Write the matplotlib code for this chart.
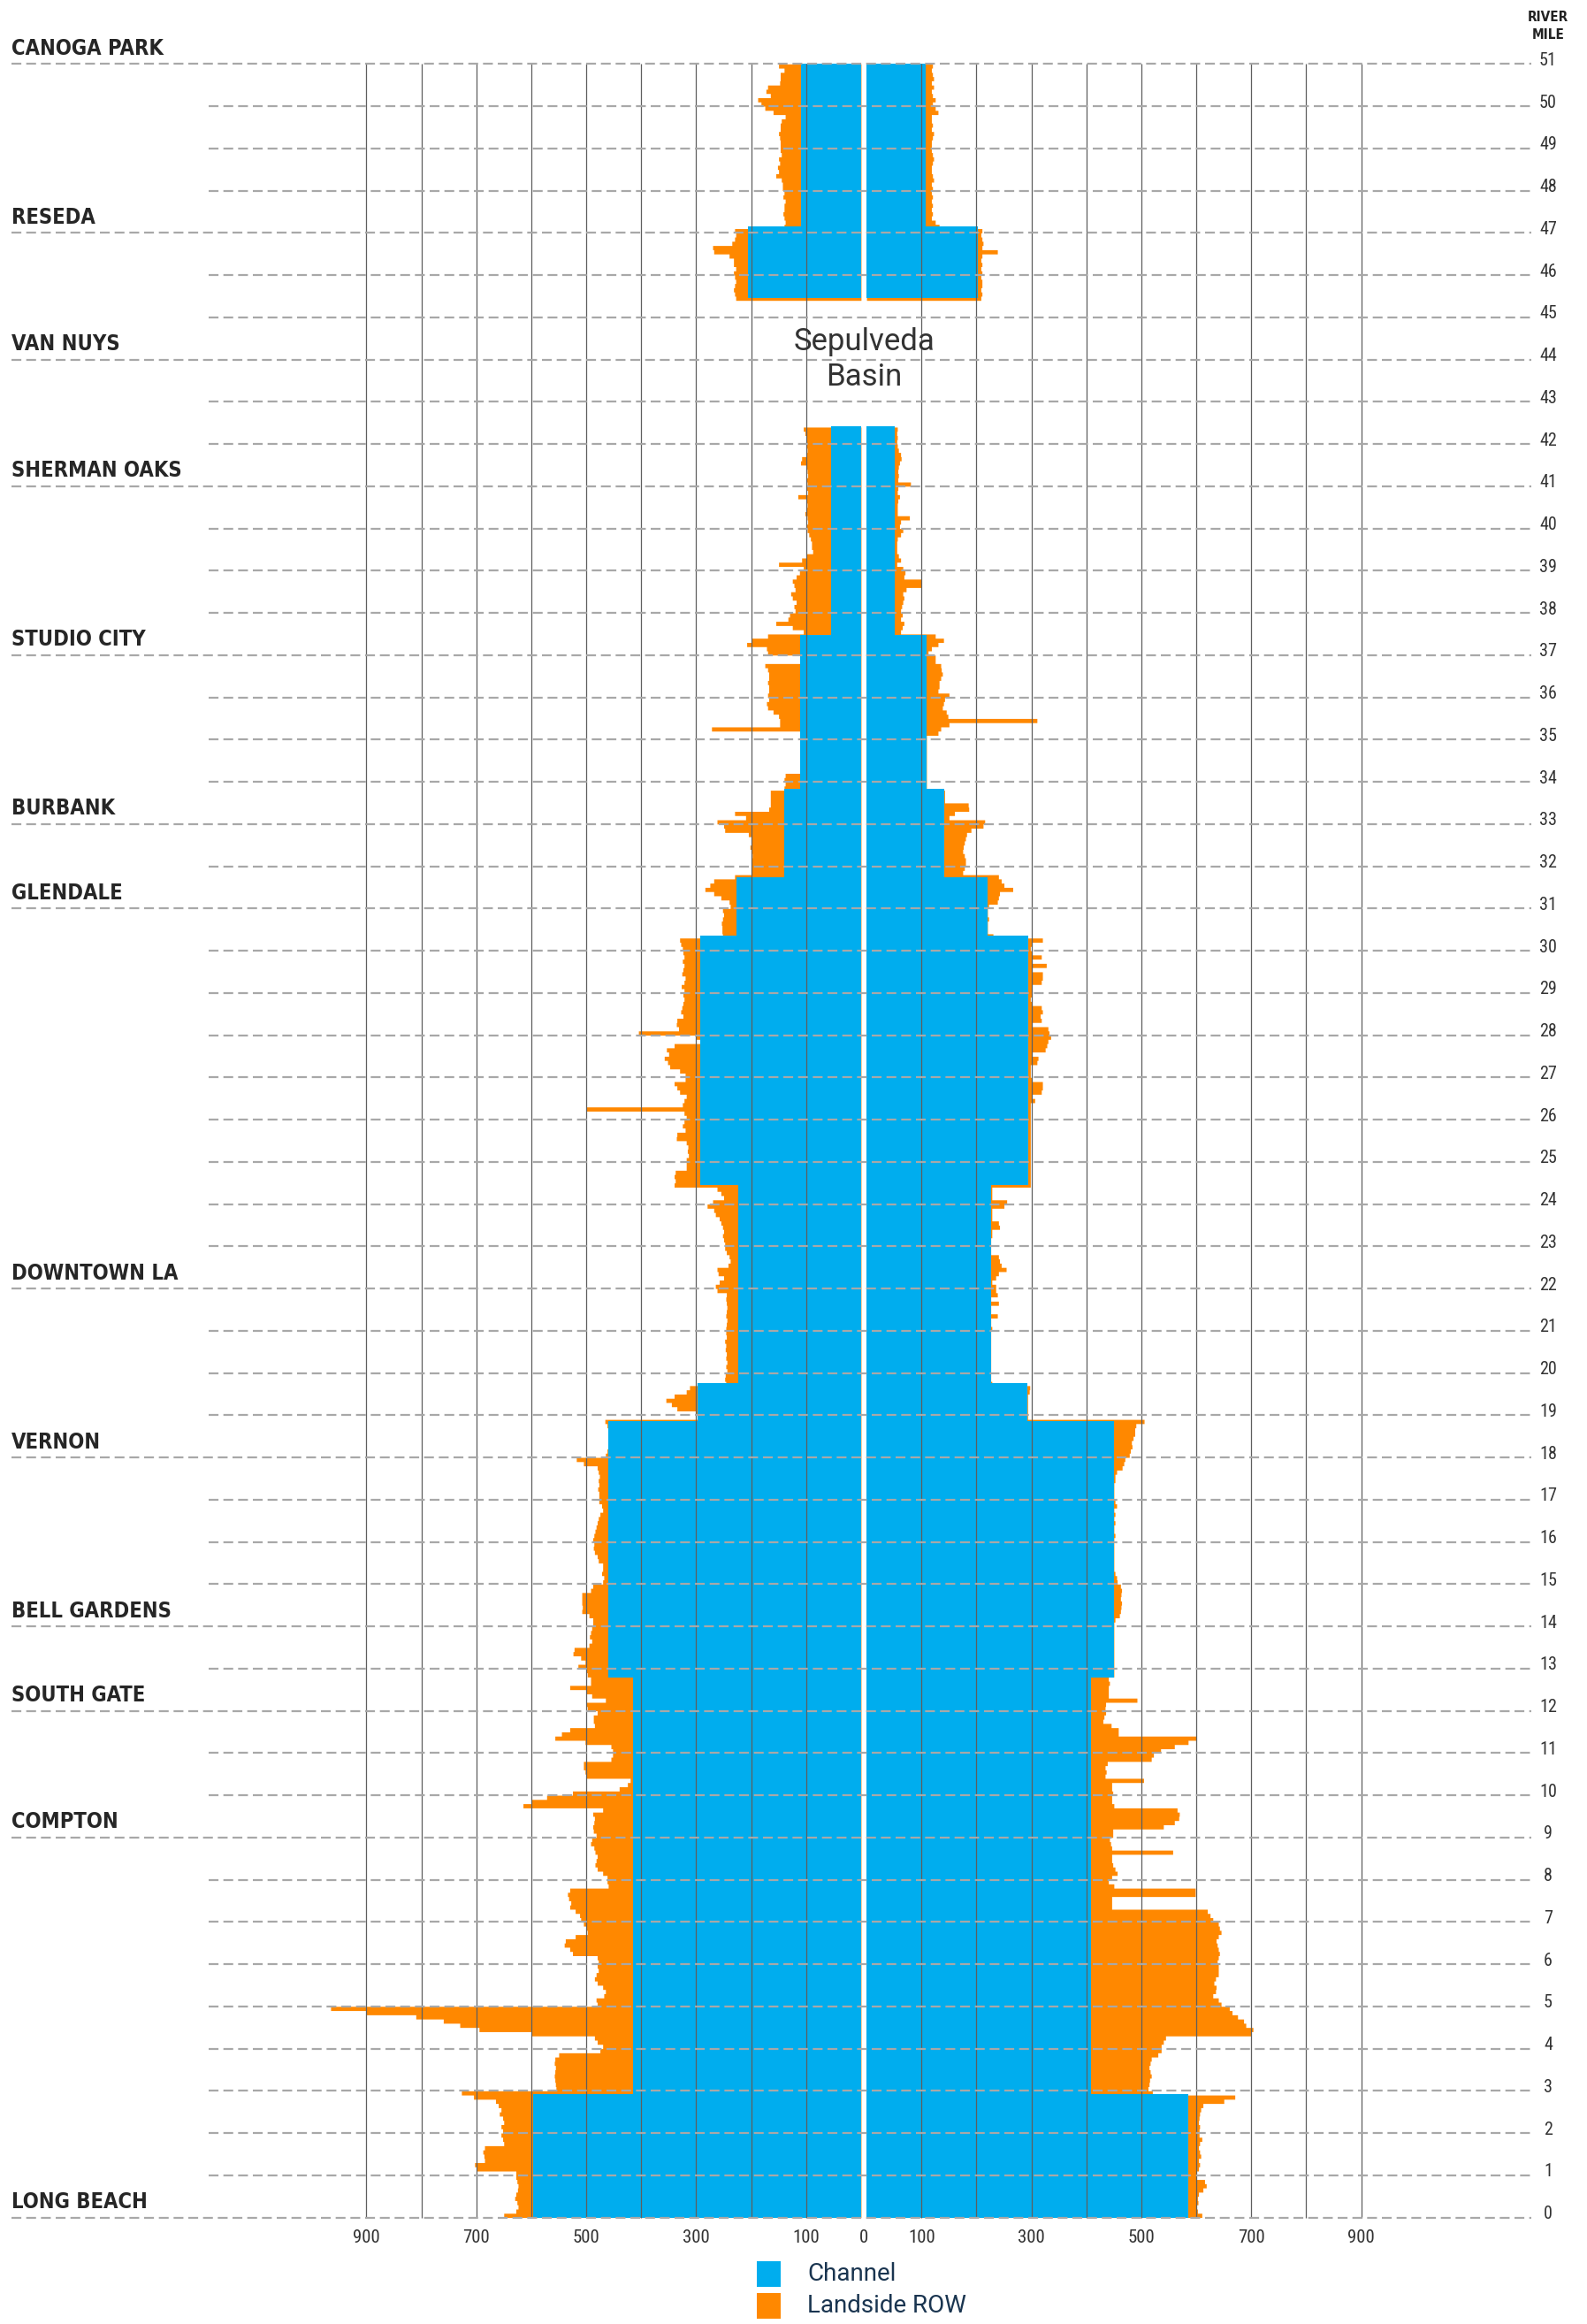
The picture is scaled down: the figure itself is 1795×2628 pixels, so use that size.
import numpy as np
import matplotlib
matplotlib.use("Agg")
import matplotlib.pyplot as plt
from matplotlib.patches import Rectangle

# channel segments: top mile, bottom mile, half-width left / right (ft)
CHANNEL_TOP = [51.0, 47.15, 42.42, 37.48, 33.83, 31.73, 30.35, 24.45, 19.76, 18.86, 12.79, 2.92]
CHANNEL_BOTTOM = [47.15, 45.45, 37.48, 33.83, 31.73, 30.35, 24.45, 19.76, 18.86, 12.79, 2.92, 0.0]
CHANNEL_LEFT = [110, 205, 55, 111, 139, 226, 293, 224, 297, 460, 415, 596]
CHANNEL_RIGHT = [108, 203, 52, 109, 142, 220, 294, 226, 292, 450, 408, 586]

# landside ROW outer edge, one row per river mile (51->50 first), 0.1 mile steps
ROW_LEFT = [
    [150, 140, 147, 147, 148, 170, 173, 165, 188, 182],
    [175, 160, 138, 145, 147, 147, 150, 148, 147, 147],
    [147, 145, 150, 148, 152, 150, 155, 145, 143, 143],
    [140, 142, 138, 140, 140, 142, 140, 138, 140, 230],
    [228, 230, 235, 270, 268, 240, 232, 232, 228, 232],
    [230, 228, 230, 232, 230, 228, 0, 0, 0, 0],
    [0, 0, 0, 0, 0, 0, 0, 0, 0, 0],
    [0, 0, 0, 0, 0, 0, 0, 0, 0, 0],
    [0, 0, 0, 0, 0, 0, 105, 102, 100, 100],
    [100, 98, 100, 108, 110, 100, 98, 97, 100, 98],
    [100, 97, 115, 100, 98, 100, 102, 98, 97, 100],
    [98, 95, 92, 90, 90, 88, 100, 108, 150, 105],
    [112, 118, 125, 122, 120, 128, 125, 118, 122, 120],
    [130, 133, 155, 125, 105, 170, 200, 208, 172, 170],
    [111, 111, 175, 170, 168, 168, 170, 168, 168, 170],
    [168, 172, 170, 160, 150, 148, 148, 272, 111, 111],
    [111, 111, 111, 111, 111, 111, 111, 111, 138, 140],
    [138, 140, 165, 165, 165, 165, 168, 230, 210, 262],
    [250, 248, 205, 200, 200, 202, 200, 198, 200, 200],
    [200, 200, 230, 268, 275, 284, 268, 255, 240, 238],
    [252, 250, 252, 254, 253, 253, 252, 330, 328, 325],
    [324, 322, 325, 322, 324, 326, 320, 322, 327, 322],
    [324, 322, 324, 326, 328, 324, 335, 336, 332, 405],
    [300, 293, 340, 354, 350, 358, 352, 348, 330, 320],
    [320, 340, 335, 330, 318, 322, 325, 500, 322, 318],
    [322, 325, 320, 335, 336, 318, 315, 316, 314, 318],
    [318, 318, 338, 340, 338, 340, 262, 255, 250, 270],
    [280, 268, 265, 258, 255, 252, 250, 252, 250, 248],
    [248, 245, 240, 238, 242, 262, 260, 250, 258, 265],
    [262, 245, 246, 245, 244, 245, 246, 244, 245, 246],
    [246, 245, 248, 246, 247, 245, 246, 244, 246, 244],
    [247, 248, 246, 312, 318, 340, 355, 345, 335, 300],
    [297, 466, 462, 460, 460, 460, 460, 460, 462, 465],
    [518, 505, 480, 478, 476, 478, 477, 479, 477, 477],
    [477, 472, 470, 475, 478, 480, 482, 484, 486, 488],
    [486, 487, 485, 480, 478, 470, 470, 472, 468, 470],
    [488, 492, 508, 508, 508, 507, 508, 495, 488, 488],
    [490, 492, 494, 490, 495, 522, 524, 510, 502, 515],
    [500, 498, 492, 492, 530, 500, 490, 465, 500, 498],
    [480, 487, 487, 485, 530, 545, 557, 502, 455, 452],
    [452, 455, 505, 505, 502, 500, 420, 425, 440, 525],
    [572, 600, 615, 470, 488, 485, 486, 488, 487, 482],
    [490, 492, 486, 484, 480, 482, 484, 480, 470, 462],
    [462, 460, 530, 534, 532, 528, 530, 520, 512, 510],
    [505, 500, 498, 520, 538, 540, 530, 525, 480, 478],
    [480, 478, 482, 485, 480, 470, 465, 468, 482, 480],
    [965, 900, 810, 760, 730, 695, 600, 485, 480, 470],
    [475, 550, 557, 558, 556, 557, 558, 557, 556, 555],
    [727, 705, 665, 660, 655, 658, 652, 650, 655, 652],
    [655, 652, 650, 685, 688, 686, 685, 703, 700, 628],
    [628, 626, 624, 625, 628, 630, 626, 624, 628, 650],
]

ROW_RIGHT = [
    [120, 118, 120, 122, 118, 122, 118, 120, 125, 120],
    [125, 130, 118, 118, 120, 118, 122, 120, 118, 118],
    [118, 120, 122, 120, 118, 118, 120, 122, 118, 120],
    [118, 120, 118, 120, 118, 120, 118, 125, 132, 210],
    [208, 210, 212, 210, 238, 210, 208, 210, 208, 210],
    [208, 210, 210, 208, 210, 208, 0, 0, 0, 0],
    [0, 0, 0, 0, 0, 0, 0, 0, 0, 0],
    [0, 0, 0, 0, 0, 0, 0, 0, 0, 0],
    [0, 0, 0, 0, 0, 0, 56, 55, 56, 55],
    [56, 58, 62, 63, 60, 58, 57, 58, 57, 80],
    [57, 56, 60, 57, 56, 56, 56, 78, 62, 60],
    [66, 62, 56, 55, 55, 55, 58, 62, 55, 66],
    [70, 68, 100, 100, 72, 66, 68, 66, 64, 62],
    [65, 62, 68, 65, 62, 125, 140, 130, 118, 112],
    [125, 125, 135, 136, 138, 135, 132, 132, 130, 150],
    [142, 140, 138, 145, 148, 310, 150, 135, 130, 109],
    [109, 109, 109, 109, 109, 109, 109, 109, 109, 109],
    [109, 109, 142, 142, 142, 185, 186, 160, 150, 215],
    [212, 190, 182, 180, 178, 176, 175, 178, 180, 180],
    [178, 175, 240, 245, 250, 266, 242, 240, 238, 222],
    [220, 220, 222, 220, 220, 220, 230, 320, 300, 298],
    [300, 318, 300, 327, 300, 320, 320, 318, 300, 300],
    [300, 298, 300, 318, 320, 316, 318, 300, 330, 332],
    [335, 330, 328, 325, 300, 312, 310, 298, 298, 298],
    [300, 320, 320, 318, 300, 306, 298, 298, 298, 298],
    [298, 298, 298, 298, 298, 298, 298, 298, 298, 298],
    [298, 298, 298, 298, 298, 298, 228, 228, 228, 255],
    [250, 228, 228, 228, 240, 242, 228, 228, 226, 226],
    [226, 226, 240, 242, 245, 254, 240, 235, 228, 235],
    [235, 238, 226, 240, 226, 226, 238, 226, 226, 228],
    [226, 226, 226, 226, 226, 226, 226, 226, 226, 226],
    [226, 226, 228, 297, 296, 293, 293, 293, 293, 293],
    [293, 505, 490, 488, 488, 485, 482, 483, 480, 478],
    [470, 468, 465, 455, 452, 452, 450, 450, 450, 450],
    [452, 455, 450, 452, 450, 452, 450, 450, 452, 450],
    [450, 450, 450, 450, 450, 450, 450, 452, 455, 456],
    [462, 464, 463, 462, 464, 463, 462, 460, 452, 450],
    [450, 450, 450, 450, 450, 450, 450, 450, 450, 450],
    [450, 450, 440, 442, 440, 440, 440, 492, 435, 434],
    [435, 432, 430, 445, 458, 458, 600, 585, 560, 535],
    [522, 518, 438, 434, 436, 434, 504, 446, 446, 448],
    [446, 446, 450, 565, 569, 568, 560, 540, 448, 448],
    [442, 444, 446, 557, 446, 446, 448, 452, 456, 446],
    [440, 450, 598, 598, 446, 446, 446, 620, 625, 630],
    [640, 642, 645, 640, 636, 638, 640, 642, 640, 638],
    [640, 640, 640, 635, 632, 636, 635, 630, 640, 645],
    [660, 665, 675, 686, 690, 703, 700, 544, 540, 536],
    [536, 530, 518, 516, 514, 516, 518, 515, 514, 512],
    [520, 670, 650, 612, 608, 606, 605, 604, 606, 605],
    [605, 610, 606, 604, 606, 608, 604, 606, 604, 600],
    [600, 615, 618, 612, 604, 602, 603, 600, 602, 610],
]

CITIES = ["CANOGA PARK", "RESEDA", "VAN NUYS", "SHERMAN OAKS", "STUDIO CITY",
          "BURBANK", "GLENDALE", "DOWNTOWN LA", "VERNON", "BELL GARDENS",
          "SOUTH GATE", "COMPTON", "LONG BEACH"]
CITY_MILES = [51, 47, 44, 41, 37, 33, 31, 22, 18, 14, 12, 9, 0]
TICK_VALUES = [900, 700, 500, 300, 100]
GRID_VALUES = [100, 200, 300, 400, 500, 600, 700, 800, 900]

BLUE = "#00adee"
ORANGE = "#ff8800"
GAP = 5          # half of the white gap in the middle, in feet
PX = 0.6217      # pixels per foot


def py_to_mile(py):
    return 51 - (py - 72.3) / 47.75


def px_to_x(px):
    return (px - 977) / PX


fig = plt.figure(figsize=(17.95, 26.28), dpi=100)
ax = fig.add_axes([0, 0, 1, 1])
ax.set_xlim(px_to_x(0), px_to_x(1795))
ax.set_ylim(py_to_mile(2628), py_to_mile(0))
ax.axis("off")

label_font = dict(family="DejaVu Sans", fontweight="bold", fontstretch="condensed")
num_font = dict(family=["Roboto Condensed", "DejaVu Sans"])
thin_font = dict(family=["Roboto", "DejaVu Sans"])

# landside ROW, drawn as one stepped shape per side
edges = 51 - 0.1 * np.arange(511)
ys = np.repeat(edges, 2)[1:-1]
left_x = np.repeat(np.concatenate(ROW_LEFT), 2)
right_x = np.repeat(np.concatenate(ROW_RIGHT), 2)
ax.fill_betweenx(ys, -GAP, -GAP - left_x, color=ORANGE, lw=0, zorder=1)
ax.fill_betweenx(ys, GAP, GAP + right_x, color=ORANGE, lw=0, zorder=1)

# channel
for top, bot, wl, wr in zip(CHANNEL_TOP, CHANNEL_BOTTOM, CHANNEL_LEFT, CHANNEL_RIGHT):
    ax.barh((top + bot) / 2, -wl, height=top - bot, left=-GAP, color=BLUE, lw=0, zorder=2)
    ax.barh((top + bot) / 2, wr, height=top - bot, left=GAP, color=BLUE, lw=0, zorder=2)

# vertical grid
for v in GRID_VALUES:
    ax.vlines([-GAP - v, GAP + v], 0, 51, colors="#5e5e5e", lw=0.9, zorder=3)

# river mile lines
for m in range(52):
    start = px_to_x(13) if m in CITY_MILES else px_to_x(236)
    ax.hlines(m, start, px_to_x(1732), colors="#a8a8a8", lw=1.6,
              linestyles=(0, (5, 2.5)), zorder=4)
    ax.text(px_to_x(1751), m + 0.08, str(m), ha="center", va="center",
            fontsize=14.5, color="#333333", **num_font)

ax.text(px_to_x(1751), py_to_mile(19), "RIVER", ha="center", va="center",
        fontsize=11, color="#222222", **label_font)
ax.text(px_to_x(1751), py_to_mile(40), "MILE", ha="center", va="center",
        fontsize=11, color="#222222", **label_font)

for name, m in zip(CITIES, CITY_MILES):
    ax.text(px_to_x(13), m + 0.22, name, ha="left", va="baseline",
            fontsize=17, color="#262626", **label_font)

# x tick labels
tick_y = py_to_mile(2530)
for v in TICK_VALUES:
    for sign in (-1, 1):
        ax.text(sign * (GAP + v), tick_y, str(v), ha="center", va="center",
                fontsize=15, color="#333333", **num_font)
ax.text(0, tick_y, "0", ha="center", va="center", fontsize=15,
        color="#333333", **num_font)

ax.text(0, 44.0, "Sepulveda\nBasin", ha="center", va="center", fontsize=25,
        color="#333333", linespacing=1.3, **thin_font)

# legend
for color, label, y0, y1 in [(BLUE, "Channel", 2557, 2586),
                             (ORANGE, "Landside ROW", 2593, 2622)]:
    ax.add_patch(Rectangle((px_to_x(856), py_to_mile(y1)), px_to_x(883) - px_to_x(856),
                           py_to_mile(y0) - py_to_mile(y1), color=color, lw=0))
    ax.text(px_to_x(913), py_to_mile((y0 + y1) / 2), label, ha="left", va="center",
            fontsize=20, color="#1a3550", **thin_font)

fig.savefig("out.png", dpi=100)
